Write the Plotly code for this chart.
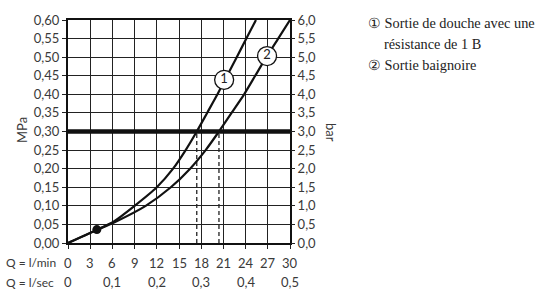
import plotly.graph_objects as go

# ---- data ----
q1 = [0, 4, 6.2, 9.0, 12, 14.2, 15.9, 17.4, 18.8, 20.2, 21.5, 22.8, 24.1, 25.4]
p1 = [0, 0.036, 0.058, 0.10, 0.15, 0.20, 0.25, 0.30, 0.35, 0.40, 0.45, 0.50, 0.55, 0.60]
q2 = [0, 4, 6.3, 10.5, 13.9, 16.5, 18.6, 20.4, 22.1, 23.8, 25.3, 26.8, 28.4, 30]
p2 = [0, 0.036, 0.056, 0.10, 0.15, 0.20, 0.25, 0.30, 0.35, 0.40, 0.45, 0.50, 0.55, 0.60]
point_q = [3.9]
point_p = [0.036]
ref_pressure = 0.30
cross_q = [17.4, 20.4]
label_q = [21.1, 26.9]
label_p = [0.439, 0.503]
label_txt = ["1", "2"]

mpa_ticks = [i * 0.05 for i in range(13)]
mpa_text = ["%.2f" % v for v in mpa_ticks]
bar_ticks = [i * 0.5 for i in range(13)]
bar_text = ["%.1f" % v for v in bar_ticks]
lmin_ticks = list(range(0, 31, 3))
lsec_vals = [0, 0.1, 0.2, 0.3, 0.4, 0.5]
lsec_text = ["0", "0,1", "0,2", "0,3", "0,4", "0,5"]
legend_lines = ["① Sortie de douche avec une", "résistance de 1 B", "② Sortie baignoire"]

FONT = "Lato"
TC = "#3a3a3a"
L, R, T, B = 68, 290, 16, 243
PW, PH = R - L, B - T

fig = go.Figure()
for q in cross_q:
    fig.add_trace(go.Scatter(x=[q, q], y=[0, ref_pressure], mode="lines",
                             line=dict(color="#222", width=1.3, dash="4px,3px"),
                             hoverinfo="skip", showlegend=False))
fig.add_trace(go.Scatter(x=q1, y=p1, mode="lines",
                         line=dict(color="#111", width=2.2, shape="spline", smoothing=0.6),
                         showlegend=False))
fig.add_trace(go.Scatter(x=q2, y=p2, mode="lines",
                         line=dict(color="#111", width=2.2, shape="spline", smoothing=0.6),
                         showlegend=False))
fig.add_trace(go.Scatter(x=[0, 30], y=[ref_pressure, ref_pressure], mode="lines",
                         line=dict(color="#111", width=4.5), showlegend=False))
fig.add_trace(go.Scatter(x=point_q, y=point_p, mode="markers",
                         marker=dict(color="#111", size=9), showlegend=False))
fig.add_trace(go.Scatter(x=label_q, y=label_p, mode="markers+text", text=label_txt,
                         textposition="middle center",
                         textfont=dict(family=FONT, size=13, color="#222"),
                         marker=dict(color="white", size=19, line=dict(color="#111", width=1.3)),
                         showlegend=False))
fig.add_trace(go.Scatter(x=[0, 30], y=[0, 6], yaxis="y2", mode="lines",
                         line=dict(width=0), hoverinfo="skip", showlegend=False))

fig.update_layout(
    width=544, height=292,
    margin=dict(l=L, r=544 - R, t=T, b=292 - B),
    paper_bgcolor="white", plot_bgcolor="white",
    xaxis=dict(range=[0, 30], tickvals=lmin_ticks, showticklabels=False,
               showgrid=True, gridcolor="#222", gridwidth=1.3,
               showline=True, linecolor="#111", linewidth=2, mirror=True,
               ticks="outside", ticklen=4, tickcolor="#222", tickwidth=1.3, zeroline=False),
    yaxis=dict(range=[0, 0.6], tickvals=mpa_ticks, ticktext=[t.replace(".", ",") for t in mpa_text],
               showgrid=True, gridcolor="#222", gridwidth=1.3,
               showline=True, linecolor="#111", linewidth=2, mirror=True,
               ticks="outside", ticklen=4, tickcolor="#222", tickwidth=1.3, zeroline=False,
               tickfont=dict(family=FONT, size=13, color=TC)),
    yaxis2=dict(range=[0, 6], overlaying="y", side="right", anchor="x",
                tickvals=bar_ticks, ticktext=[t.replace(".", ",") for t in bar_text],
                showgrid=False, ticks="outside", ticklen=4, tickcolor="#222", tickwidth=1.3,
                zeroline=False, showline=False,
                tickfont=dict(family=FONT, size=13, color=TC)),
)

def px(x):
    return (x - L) / PW

def py(y):
    return (B - y) / PH

ann = []
for q in lmin_ticks:
    ann.append(dict(x=q, y=py(263), xref="x", yref="paper", text=str(q), showarrow=False,
                    xanchor="center", yanchor="middle", font=dict(family=FONT, size=13, color=TC)))
for v, t in zip(lsec_vals, lsec_text):
    ann.append(dict(x=v * 60, y=py(283), xref="x", yref="paper", text=t, showarrow=False,
                    xanchor="center", yanchor="middle", font=dict(family=FONT, size=13, color=TC)))
ann.append(dict(x=px(4), y=py(263), xref="paper", yref="paper", text="Q = l/min", showarrow=False,
                xanchor="left", yanchor="middle", font=dict(family=FONT, size=12, color=TC)))
ann.append(dict(x=px(4), y=py(283), xref="paper", yref="paper", text="Q = l/sec", showarrow=False,
                xanchor="left", yanchor="middle", font=dict(family=FONT, size=12, color=TC)))
ann.append(dict(x=px(22), y=py(128), xref="paper", yref="paper", text="MPa", textangle=-90, showarrow=False,
                xanchor="center", yanchor="middle", font=dict(family=FONT, size=13, color=TC)))
ann.append(dict(x=px(331), y=py(130), xref="paper", yref="paper", text="bar", textangle=90, showarrow=False,
                xanchor="center", yanchor="middle", font=dict(family=FONT, size=13, color=TC)))
leg_pos = [(366, 19), (382, 40), (366, 62)]
for (lx, ly), t in zip(leg_pos, legend_lines):
    ann.append(dict(x=px(lx), y=py(ly), xref="paper", yref="paper", text=t,
                    showarrow=False, xanchor="left", yanchor="middle",
                    font=dict(family="Liberation Serif", size=14.3, color="#222")))
fig.update_layout(annotations=ann)

fig.write_html("out.html", config={"displayModeBar": False},
               post_script="document.body.style.margin='0';")
